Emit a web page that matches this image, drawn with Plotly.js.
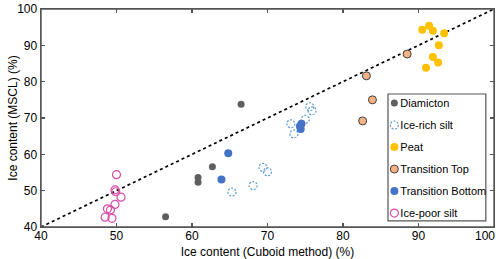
<!DOCTYPE html>
<html>
<head>
<meta charset="utf-8">
<script src="https://cdn.plot.ly/plotly-3.0.1.min.js"></script>
<style>html,body{margin:0;padding:0;background:#fff;}#chart{width:500px;height:259px;}</style>
</head>
<body>
<div id="chart"></div>
<script>
// Data (x: Cuboid method %, y: MSCL %)
const diamictonX = [56.5, 60.8, 60.8, 62.7, 66.5];
const diamictonY = [42.8, 53.6, 52.3, 56.6, 73.8];

const iceRichX = [65.3, 68.1, 69.4, 70.0, 73.1, 73.5, 75.0, 75.6, 75.9];
const iceRichY = [49.6, 51.4, 56.4, 55.2, 68.4, 65.6, 69.6, 73.1, 72.0];

const peatX = [90.5, 91.4, 91.9, 93.4, 92.7, 91.9, 92.6, 91.0];
const peatY = [94.3, 95.4, 94.0, 93.3, 90.0, 86.8, 85.3, 83.8];

const transTopX = [88.5, 83.1, 83.9, 82.6];
const transTopY = [87.6, 81.6, 75.0, 69.2];

const transBottomX = [64.8, 63.9, 74.5, 74.3, 74.4];
const transBottomY = [60.3, 53.1, 68.4, 67.7, 67.0];

const icePoorX = [50.0, 49.8, 49.9, 50.6, 49.8, 48.8, 49.2, 48.5, 49.4];
const icePoorY = [54.4, 50.2, 49.7, 48.2, 46.2, 45.0, 44.7, 42.7, 42.4];

const oneToOne = [40, 100];
const xTicks = [40, 50, 60, 70, 80, 90, 100];
const yTicks = [40, 50, 60, 70, 80, 90, 100];

const FONT = 'Arial, "Liberation Sans", sans-serif';
const AX = '#555';

const traces = [
  {x: oneToOne, y: oneToOne, mode: 'lines', line: {color: '#000', width: 1.7, dash: 'dot'}, showlegend: false, hoverinfo: 'skip'},
  {x: diamictonX, y: diamictonY, mode: 'markers', name: 'Diamicton', legendgroup: 'a',
   marker: {color: '#5f5f5f', size: 7}},
  {x: iceRichX, y: iceRichY, mode: 'markers', name: 'Ice-rich silt', legendgroup: 'b',
   marker: {symbol: 'circle-open', color: '#5b9bd5', size: 8, line: {width: 1.2}}},
  {x: peatX, y: peatY, mode: 'markers', name: 'Peat', legendgroup: 'c',
   marker: {color: '#ffc000', size: 8}},
  {x: transTopX, y: transTopY, mode: 'markers', name: 'Transition Top', legendgroup: 'd',
   marker: {color: '#f4b183', size: 8, line: {color: '#404040', width: 1}}},
  {x: transBottomX, y: transBottomY, mode: 'markers', name: 'Transition Bottom', legendgroup: 'e',
   marker: {color: '#4472c4', size: 8}},
  {x: icePoorX, y: icePoorY, mode: 'markers', name: 'Ice-poor silt', legendgroup: 'f',
   marker: {symbol: 'circle-open', color: '#d94fa8', size: 8, line: {width: 1.2}}}
];

const layout = {
  width: 500, height: 259,
  margin: {l: 41, r: 6, t: 9, b: 32},
  paper_bgcolor: '#fff', plot_bgcolor: '#fff',
  font: {family: FONT, size: 12, color: '#000'},
  showlegend: true,
  legend: {
    x: 0.705, y: 0.635, xanchor: 'left', yanchor: 'top',
    bgcolor: 'rgba(0,0,0,0)', borderwidth: 0,
    font: {family: FONT, size: 11, color: '#000'},
    tracegroupgap: 3, traceorder: 'grouped'
  },
  xaxis: {
    range: [40, 100], tickvals: xTicks, ticktext: xTicks.map(String),
    ticks: 'inside', ticklen: 4, tickcolor: AX, tickwidth: 1.2, mirror: 'allticks',
    showline: true, linecolor: AX, linewidth: 1.4, showgrid: false, zeroline: false,
    ticklabeloverflow: 'allow',
    title: {text: 'Ice content (Cuboid method) (%)', font: {size: 12}, standoff: 0},
    tickfont: {size: 12}
  },
  yaxis: {
    range: [40, 100], tickvals: yTicks, ticktext: yTicks.map(String),
    ticks: 'inside', ticklen: 4, tickcolor: AX, tickwidth: 1.2, mirror: 'allticks',
    showline: true, linecolor: AX, linewidth: 1.4, showgrid: false, zeroline: false,
    ticklabeloverflow: 'allow',
    title: {text: 'Ice content (MSCL) (%)', font: {size: 12}, standoff: 3},
    tickfont: {size: 12}
  },
  shapes: [
    {type: 'rect', xref: 'paper', yref: 'paper', x0: 0, x1: 1, y0: 0, y1: 1,
     line: {color: AX, width: 1.4}, fillcolor: 'rgba(0,0,0,0)', layer: 'above'},
    {type: 'rect', xref: 'paper', yref: 'paper',
     x0: 0.766, x1: 0.982, y0: 0.028, y1: 0.61,
     line: {color: AX, width: 1.2}, fillcolor: 'rgba(0,0,0,0)', layer: 'above'}
  ]
};

Plotly.newPlot('chart', traces, layout, {staticPlot: true, displayModeBar: false}).then(function(gd){
  // dashed outline for ice-rich silt markers
  const tr = gd.querySelectorAll('.scatterlayer .trace');
  if (tr[2]) tr[2].querySelectorAll('path.point').forEach(p => p.style.strokeDasharray = '2,1.5');
  const leg = gd.querySelectorAll('.legend .traces');
  leg.forEach(function(t, i){
    const pts = t.querySelector('.legendpoints');
    if (pts) {
      const old = pts.getAttribute('transform') || '';
      pts.setAttribute('transform', 'translate(14,0) ' + old);
    }
    if (i === 1) t.querySelectorAll('path.scatterpts').forEach(p => p.style.strokeDasharray = '2,1.5');
  });
  // x tick labels slightly closer to the axis; last one right-aligned to the axis end
  const xt = gd.querySelectorAll('.xtick text');
  xt.forEach(function(el, i){
    const dx = (i === xt.length - 1) ? -9 : 0;
    el.setAttribute('transform', (el.getAttribute('transform') || '') + ' translate(' + dx + ',-3)');
  });
  // nudge y title closer to tick labels
  const yt = gd.querySelector('.g-ytitle');
  if (yt) yt.setAttribute('transform', 'translate(6,0)');
});
</script>
</body>
</html>
